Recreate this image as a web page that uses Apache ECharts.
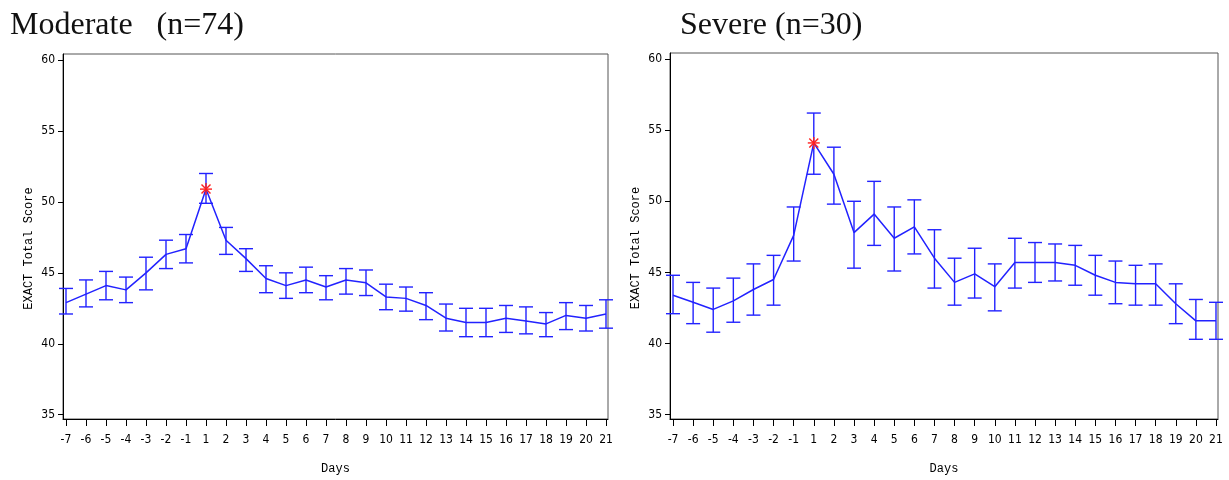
<!DOCTYPE html>
<html><head><meta charset="utf-8">
<script src="https://cdn.jsdelivr.net/npm/echarts@6/dist/echarts.min.js"></script>
<style>html,body{margin:0;padding:0;background:#fff}#c{width:1229px;height:480px}</style>
</head><body><div id="c"></div>
<script>
const days = ['-7','-6','-5','-4','-3','-2','-1','1','2','3','4','5','6','7','8','9','10','11','12','13','14','15','16','17','18','19','20','21'];
const yTicks = [35, 40, 45, 50, 55, 60];
const highlightDay = '1';

const modTitle = 'Moderate   (n=74)';
const modMean  = [42.9, 43.5, 44.1, 43.8, 45.0, 46.3, 46.7, 50.9, 47.3, 46.0, 44.6, 44.1, 44.5, 44.0, 44.5, 44.3, 43.3, 43.2, 42.7, 41.8, 41.5, 41.5, 41.8, 41.6, 41.4, 42.0, 41.8, 42.1];
const modUpper = [43.9, 44.5, 45.1, 44.7, 46.1, 47.3, 47.7, 52.0, 48.2, 46.7, 45.5, 45.0, 45.4, 44.8, 45.3, 45.2, 44.2, 44.0, 43.6, 42.8, 42.5, 42.5, 42.7, 42.6, 42.2, 42.9, 42.7, 43.1];
const modLower = [42.1, 42.6, 43.1, 42.9, 43.8, 45.3, 45.7, 49.9, 46.3, 45.1, 43.6, 43.2, 43.6, 43.1, 43.5, 43.4, 42.4, 42.3, 41.7, 40.9, 40.5, 40.5, 40.8, 40.7, 40.5, 41.0, 40.9, 41.1];

const sevTitle = 'Severe (n=30)';
const sevMean  = [43.4, 42.9, 42.4, 43.0, 43.8, 44.5, 47.6, 54.1, 51.9, 47.8, 49.1, 47.4, 48.2, 46.0, 44.3, 44.9, 44.0, 45.7, 45.7, 45.7, 45.5, 44.8, 44.3, 44.2, 44.2, 42.8, 41.6, 41.6];
const sevUpper = [44.8, 44.3, 43.9, 44.6, 45.6, 46.2, 49.6, 56.2, 53.8, 50.0, 51.4, 49.6, 50.1, 48.0, 46.0, 46.7, 45.6, 47.4, 47.1, 47.0, 46.9, 46.2, 45.8, 45.5, 45.6, 44.2, 43.1, 42.9];
const sevLower = [42.1, 41.4, 40.8, 41.5, 42.0, 42.7, 45.8, 51.9, 49.8, 45.3, 46.9, 45.1, 46.3, 43.9, 42.7, 43.2, 42.3, 43.9, 44.3, 44.4, 44.1, 43.4, 42.8, 42.7, 42.7, 41.4, 40.3, 40.3];

const yName = 'EXACT Total Score';
const xName = 'Days';

const BLUE = '#2222ff';
const tickFont = "'Liberation Sans Narrow','DejaVu Sans Condensed',sans-serif";
const nameFont = "'Liberation Mono','DejaVu Sans Mono',monospace";
const titleFont = "'Liberation Serif','Times New Roman',serif";
const idx = days.map((d, i) => i);

function xAxis(gi) {
  return {
    type: 'value', gridIndex: gi, min: -0.15, max: 27.1,
    axisLine: { show: true, onZero: false, lineStyle: { color: '#000', width: 1 } },
    axisTick: { show: true, length: 7, customValues: idx, lineStyle: { color: '#000' } },
    axisLabel: { customValues: idx, formatter: v => days[Math.round(v)], margin: 15,
      color: '#000', fontSize: 12, fontFamily: tickFont },
    splitLine: { show: false },
    name: xName, nameLocation: 'middle', nameGap: 44,
    nameTextStyle: { fontSize: 12, fontFamily: nameFont, color: '#000' }
  };
}
function yAxis(gi) {
  return {
    type: 'value', gridIndex: gi, min: 34.7, max: 60.42,
    axisLine: { show: true, onZero: false, lineStyle: { color: '#000', width: 1 } },
    axisTick: { show: true, length: 5, customValues: yTicks, lineStyle: { color: '#000' } },
    axisLabel: { customValues: yTicks, margin: 8, color: '#000', fontSize: 12, fontFamily: tickFont },
    splitLine: { show: false },
    name: yName, nameLocation: 'middle', nameGap: 28, nameRotate: 90,
    nameTextStyle: { fontSize: 12, fontFamily: nameFont, color: '#000', padding: [0, 24, 0, 0] }
  };
}
function errSeries(gi, lower, upper) {
  return {
    type: 'custom', xAxisIndex: gi, yAxisIndex: gi,
    data: idx.map(i => [i, lower[i], upper[i]]),
    renderItem: (params, api) => {
      const lo = api.coord([api.value(0), api.value(1)]);
      const hi = api.coord([api.value(0), api.value(2)]);
      const hw = 7;
      const st = { stroke: BLUE, lineWidth: 1.4 };
      return { type: 'group', children: [
        { type: 'line', shape: { x1: lo[0], y1: lo[1], x2: hi[0], y2: hi[1] }, style: st },
        { type: 'line', shape: { x1: lo[0] - hw, y1: lo[1], x2: lo[0] + hw, y2: lo[1] }, style: st },
        { type: 'line', shape: { x1: hi[0] - hw, y1: hi[1], x2: hi[0] + hw, y2: hi[1] }, style: st }
      ]};
    },
    z: 2
  };
}
function lineSeries(gi, mean) {
  return {
    type: 'line', xAxisIndex: gi, yAxisIndex: gi, data: idx.map(i => [i, mean[i]]),
    symbol: 'none', lineStyle: { color: BLUE, width: 1.5 }, z: 3
  };
}
function starSeries(gi, mean) {
  const k = days.indexOf(highlightDay);
  return {
    type: 'custom', xAxisIndex: gi, yAxisIndex: gi, data: [[k, mean[k]]],
    renderItem: (params, api) => {
      const p = api.coord([api.value(0), api.value(1)]);
      const r = 6, st = { stroke: '#ff2020', lineWidth: 1.4 };
      const d = r * 0.75;
      return { type: 'group', children: [
        { type: 'line', shape: { x1: p[0] - r, y1: p[1], x2: p[0] + r, y2: p[1] }, style: st },
        { type: 'line', shape: { x1: p[0], y1: p[1] - r, x2: p[0], y2: p[1] + r }, style: st },
        { type: 'line', shape: { x1: p[0] - d, y1: p[1] - d, x2: p[0] + d, y2: p[1] + d }, style: st },
        { type: 'line', shape: { x1: p[0] - d, y1: p[1] + d, x2: p[0] + d, y2: p[1] - d }, style: st }
      ]};
    },
    z: 5
  };
}

const chart = echarts.init(document.getElementById('c'), null, { renderer: 'canvas' });
chart.setOption({
  animation: false,
  backgroundColor: '#fff',
  title: [
    { text: modTitle, left: 5, top: 5, textStyle: { fontFamily: titleFont, fontSize: 32, fontWeight: 'normal', color: '#111' } },
    { text: sevTitle, left: 675, top: 5, textStyle: { fontFamily: titleFont, fontSize: 32, fontWeight: 'normal', color: '#111' } }
  ],
  grid: [
    { left: 63, right: 621, top: 54, bottom: 58, show: true, borderColor: '#555', borderWidth: 1 },
    { left: 670, right: 11, top: 53, bottom: 58, show: true, borderColor: '#555', borderWidth: 1 }
  ],
  xAxis: [xAxis(0), xAxis(1)],
  yAxis: [yAxis(0), yAxis(1)],
  series: [
    errSeries(0, modLower, modUpper), lineSeries(0, modMean), starSeries(0, modMean),
    errSeries(1, sevLower, sevUpper), lineSeries(1, sevMean), starSeries(1, sevMean)
  ]
});
</script></body></html>
